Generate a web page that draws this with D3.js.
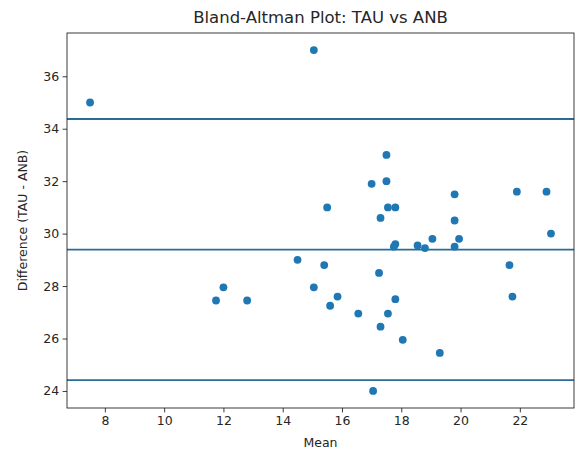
<!DOCTYPE html>
<html>
<head>
<meta charset="utf-8">
<script src="https://cdn.jsdelivr.net/npm/d3@7"></script>
<style>
  body { margin: 0; background: #fff; }
  #graf text { font-family: 'DejaVu Sans', sans-serif; fill: #262626; }
</style>
</head>
<body>
<div id="graf"></div>
<script>
// medias (eje x) y diferencias TAU - ANB (eje y)
const medias = [7.5, 15.05, 17.5, 17.0, 17.5, 19.8, 21.9, 22.9, 15.5, 17.55, 17.8, 17.3, 19.8, 23.05,
  17.8, 17.75, 18.55, 18.8, 19.05, 19.95, 19.8, 14.5, 15.4, 17.25, 21.65, 15.05, 15.85, 17.8, 21.75,
  15.6, 16.55, 17.55, 17.3, 18.05, 19.3, 17.05, 12.0, 11.75, 12.8]
const diferencias = [35, 37, 33, 31.9, 32, 31.5, 31.6, 31.6, 31, 31, 31, 30.6, 30.5, 30,
  29.6, 29.5, 29.55, 29.45, 29.8, 29.8, 29.5, 29, 28.8, 28.5, 28.8, 27.95, 27.6, 27.5, 27.6,
  27.25, 26.95, 26.95, 26.45, 25.95, 25.45, 24, 27.95, 27.45, 27.45]
// media y limites de acuerdo
const lineas = [34.37, 29.39, 24.41]
const ticksX = [8, 10, 12, 14, 16, 18, 20, 22]
const ticksY = [24, 26, 28, 30, 32, 34, 36]

const anchoTotal = 578
const altoTotal = 450
const margin = { top: 33, bottom: 42, left: 67, right: 4 }
const ancho = anchoTotal - margin.left - margin.right
const alto = altoTotal - margin.top - margin.bottom

const svg = d3.select('#graf')
  .append('svg')
  .attr('width', anchoTotal)
  .attr('height', altoTotal)

const g = svg.append('g')
  .attr('transform', `translate(${margin.left}, ${margin.top})`)

// margenes del 5% como matplotlib
const padX = (d3.max(medias) - d3.min(medias)) * 0.05
const padY = (d3.max(diferencias) - d3.min(diferencias)) * 0.05
const x = d3.scaleLinear()
  .domain([d3.min(medias) - padX, d3.max(medias) + padX])
  .range([0, ancho])
const y = d3.scaleLinear()
  .domain([d3.min(diferencias) - padY, d3.max(diferencias) + padY])
  .range([alto, 0])

const color = '#1f77b4'

g.selectAll('line.ref')
  .data(lineas)
  .enter()
  .append('line')
  .attr('class', 'ref')
  .attr('x1', 0)
  .attr('x2', ancho)
  .attr('y1', d => y(d))
  .attr('y2', d => y(d))
  .attr('stroke', '#2a6c96')
  .attr('stroke-width', 1.8)

g.selectAll('circle')
  .data(medias)
  .enter()
  .append('circle')
  .attr('cx', d => x(d))
  .attr('cy', (d, i) => y(diferencias[i]))
  .attr('r', 3.9)
  .attr('fill', color)

const xAxis = g.append('g')
  .attr('transform', `translate(0, ${alto})`)
  .call(d3.axisBottom(x).tickValues(ticksX).tickSize(4.4).tickPadding(3.5).tickFormat(d3.format('d')))
const yAxis = g.append('g')
  .call(d3.axisLeft(y).tickValues(ticksY).tickSize(4.4).tickPadding(3.5).tickFormat(d3.format('d')))

;[xAxis, yAxis].forEach(ax => {
  ax.select('.domain').remove()
  ax.selectAll('line').attr('stroke', '#262626').attr('stroke-width', 0.9)
  ax.selectAll('text').style('font-size', '12.5px')
})

// marco
g.append('rect')
  .attr('x', 0)
  .attr('y', 0)
  .attr('width', ancho)
  .attr('height', alto)
  .attr('fill', 'none')
  .attr('stroke', '#262626')
  .attr('stroke-width', 0.9)

svg.append('text')
  .attr('x', margin.left + ancho / 2)
  .attr('y', 23)
  .attr('text-anchor', 'middle')
  .style('font-size', '16.5px')
  .text('Bland-Altman Plot: TAU vs ANB')

svg.append('text')
  .attr('x', margin.left + ancho / 2)
  .attr('y', 447)
  .attr('text-anchor', 'middle')
  .style('font-size', '12.5px')
  .text('Mean')

svg.append('text')
  .attr('transform', `translate(27, ${margin.top + alto / 2}) rotate(-90)`)
  .attr('text-anchor', 'middle')
  .style('font-size', '12.5px')
  .text('Difference (TAU - ANB)')
</script>
</body>
</html>
